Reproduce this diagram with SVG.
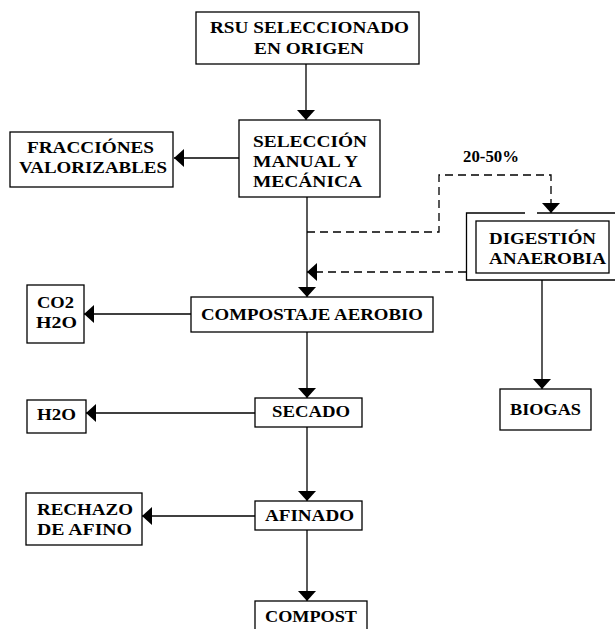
<svg xmlns="http://www.w3.org/2000/svg" width="615" height="629" viewBox="0 0 615 629">
<style>
.box{fill:#fff;stroke:#000;stroke-width:1.3}
.ln{fill:none;stroke:#000;stroke-width:1.3}
.dash{fill:none;stroke:#000;stroke-width:1.3;stroke-dasharray:8,5}
.t{font-family:'Liberation Serif','DejaVu Serif',serif;font-weight:bold;font-size:17px;fill:#000}
</style>
<defs>
<marker id="ah" markerUnits="userSpaceOnUse" markerWidth="10" markerHeight="18" refX="10" refY="9" orient="auto" viewBox="0 0 10 18">
<path d="M0,0 L10,9 L0,18 z" fill="#000"/>
</marker>
</defs>
<rect width="615" height="629" fill="#fff"/>
<g id="connectors">
<line class="ln" x1="306" y1="64" x2="306" y2="120" marker-end="url(#ah)"/>
<line class="ln" x1="239" y1="158" x2="174" y2="158" marker-end="url(#ah)"/>
<line class="ln" x1="307" y1="197" x2="307" y2="297" marker-end="url(#ah)"/>
<path class="dash" d="M307,232 H439 V175 H551 V213" marker-end="url(#ah)"/>
<line class="dash" x1="466" y1="272" x2="307" y2="272" marker-end="url(#ah)"/>
<line class="ln" x1="542" y1="280" x2="542" y2="389" marker-end="url(#ah)"/>
<line class="ln" x1="191" y1="314" x2="84" y2="314" marker-end="url(#ah)"/>
<line class="ln" x1="307" y1="332" x2="307" y2="398" marker-end="url(#ah)"/>
<line class="ln" x1="255" y1="413" x2="86" y2="413" marker-end="url(#ah)"/>
<line class="ln" x1="307" y1="427" x2="307" y2="501" marker-end="url(#ah)"/>
<line class="ln" x1="255" y1="516" x2="142" y2="516" marker-end="url(#ah)"/>
<line class="ln" x1="307" y1="530" x2="307" y2="601" marker-end="url(#ah)"/>
</g>
<g id="rsu">
<rect class="box" x="196" y="12" width="223" height="52"/>
<text class="t" x="210" y="33" textLength="199" lengthAdjust="spacingAndGlyphs">RSU SELECCIONADO</text>
<text class="t" x="254" y="54" textLength="110" lengthAdjust="spacingAndGlyphs">EN ORIGEN</text>
</g>
<g id="seleccion">
<rect class="box" x="239" y="120" width="141" height="77"/>
<text class="t" x="253" y="147" textLength="114" lengthAdjust="spacingAndGlyphs">SELECCIÓN</text>
<text class="t" x="253" y="167" textLength="105" lengthAdjust="spacingAndGlyphs">MANUAL Y</text>
<text class="t" x="253" y="187" textLength="109" lengthAdjust="spacingAndGlyphs">MECÁNICA</text>
</g>
<g id="fracciones">
<rect class="box" x="10" y="132" width="163" height="55"/>
<text class="t" x="27" y="153" textLength="127" lengthAdjust="spacingAndGlyphs">FRACCIÓNES</text>
<text class="t" x="19" y="173" textLength="148" lengthAdjust="spacingAndGlyphs">VALORIZABLES</text>
</g>
<g id="pct">
<text class="t" x="463" y="162" textLength="56" lengthAdjust="spacingAndGlyphs">20-50%</text>
</g>
<g id="digestion">
<path class="ln" d="M525,213 H466.5 V280 H620 M537,213 H620"/>
<rect class="box" x="476" y="221" width="133" height="52"/>
<text class="t" x="489" y="244" textLength="107" lengthAdjust="spacingAndGlyphs">DIGESTIÓN</text>
<text class="t" x="489" y="264" textLength="117" lengthAdjust="spacingAndGlyphs">ANAEROBIA</text>
</g>
<g id="compostaje">
<rect class="box" x="191" y="297" width="242" height="35"/>
<text class="t" x="201" y="320" textLength="222" lengthAdjust="spacingAndGlyphs">COMPOSTAJE AEROBIO</text>
</g>
<g id="co2">
<rect class="box" x="27" y="285" width="57" height="58"/>
<text class="t" x="37" y="308" textLength="37" lengthAdjust="spacingAndGlyphs">CO2</text>
<text class="t" x="36" y="328" textLength="41" lengthAdjust="spacingAndGlyphs">H2O</text>
</g>
<g id="biogas">
<rect class="box" x="500" y="389" width="91" height="41"/>
<text class="t" x="510" y="415" textLength="71" lengthAdjust="spacingAndGlyphs">BIOGAS</text>
</g>
<g id="secado">
<rect class="box" x="255" y="398" width="107" height="29"/>
<text class="t" x="272" y="417" textLength="78" lengthAdjust="spacingAndGlyphs">SECADO</text>
</g>
<g id="h2o">
<rect class="box" x="27" y="400" width="59" height="33"/>
<text class="t" x="37" y="420" textLength="39" lengthAdjust="spacingAndGlyphs">H2O</text>
</g>
<g id="afinado">
<rect class="box" x="255" y="501" width="107" height="29"/>
<text class="t" x="265" y="521" textLength="89" lengthAdjust="spacingAndGlyphs">AFINADO</text>
</g>
<g id="rechazo">
<rect class="box" x="26" y="493" width="116" height="52"/>
<text class="t" x="37" y="515" textLength="96" lengthAdjust="spacingAndGlyphs">RECHAZO</text>
<text class="t" x="37" y="535" textLength="95" lengthAdjust="spacingAndGlyphs">DE AFINO</text>
</g>
<g id="compost">
<rect class="box" x="255" y="601" width="112" height="40"/>
<text class="t" x="265" y="622" textLength="92" lengthAdjust="spacingAndGlyphs">COMPOST</text>
</g>
</svg>
